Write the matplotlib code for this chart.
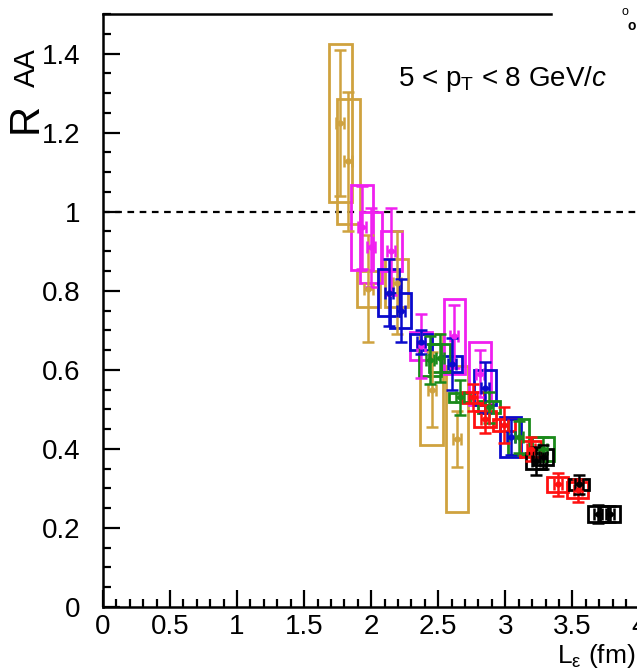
import matplotlib
matplotlib.use('Agg')
import matplotlib.pyplot as plt
from matplotlib.patches import Rectangle
from matplotlib.ticker import MultipleLocator

plt.rcParams['font.family'] = ['Liberation Sans', 'DejaVu Sans']
plt.rcParams['mathtext.fontset'] = 'custom'
plt.rcParams['mathtext.rm'] = 'Liberation Sans'
plt.rcParams['mathtext.it'] = 'Liberation Sans:italic'

# data: x, R_AA, stat err, syst err
gold_x = [1.77, 1.83, 1.98, 2.19, 2.45, 2.64]
gold_y = [1.225, 1.127, 0.805, 0.82, 0.55, 0.425]
gold_stat = [0.185, 0.175, 0.135, 0.13, 0.095, 0.07]
gold_sys = [0.20, 0.158, 0.045, 0.06, 0.14, 0.185]

mag_x = [1.93, 2.00, 2.15, 2.37, 2.62, 2.81]
mag_y = [0.96, 0.91, 0.90, 0.66, 0.685, 0.59]
mag_stat = [0.105, 0.10, 0.11, 0.08, 0.08, 0.06]
mag_sys = [0.107, 0.09, 0.05, 0.035, 0.095, 0.08]

blue_x = [2.13, 2.22, 2.37, 2.60, 2.85, 3.04]
blue_y = [0.795, 0.75, 0.67, 0.615, 0.555, 0.43]
blue_stat = [0.085, 0.08, 0.03, 0.065, 0.065, 0.045]
blue_sys = [0.06, 0.045, 0.02, 0.02, 0.045, 0.05]

green_x = [2.44, 2.51, 2.66, 2.88, 3.10, 3.28]
green_y = [0.625, 0.63, 0.53, 0.505, 0.43, 0.40]
green_stat = [0.06, 0.06, 0.045, 0.04, 0.04, 0.03]
green_sys = [0.04, 0.035, 0.012, 0.015, 0.045, 0.03]

red_x = [2.76, 2.85, 2.99, 3.19, 3.39, 3.54]
red_y = [0.53, 0.475, 0.46, 0.40, 0.31, 0.295]
red_stat = [0.035, 0.035, 0.045, 0.03, 0.03, 0.03]
red_sys = [0.015, 0.02, 0.015, 0.02, 0.02, 0.02]

black_x = [3.23, 3.28, 3.55, 3.69, 3.78]
black_y = [0.37, 0.38, 0.31, 0.235, 0.235]
black_stat = [0.035, 0.03, 0.025, 0.022, 0.02]
black_sys = [0.02, 0.02, 0.015, 0.02, 0.02]

series = [
    (gold_x, gold_y, gold_stat, gold_sys, '#CFA23F', 0.17),
    (mag_x, mag_y, mag_stat, mag_sys, '#F020F0', 0.16),
    (blue_x, blue_y, blue_stat, blue_sys, '#0A0ACC', 0.16),
    (green_x, green_y, green_stat, green_sys, '#1A8A1A', 0.16),
    (red_x, red_y, red_stat, red_sys, '#FF1010', 0.16),
    (black_x, black_y, black_stat, black_sys, '#000000', 0.15),
]

fig = plt.figure(figsize=(6.37, 6.72), dpi=100)
ax = fig.add_axes([103 / 637, 65 / 672, 590 / 637, 593 / 672])
ax.set_xlim(0, 4.4)
ax.set_ylim(0, 1.5)

for xs, ys, st, sy, col, w in series:
    for x, y, s in zip(xs, ys, sy):
        ax.add_patch(Rectangle((x - w / 2, y - s), w, 2 * s, fill=False,
                               edgecolor=col, lw=2.0, zorder=2))
    ax.errorbar(xs, ys, yerr=st, xerr=0.03, fmt='o', ms=3.5, color=col,
                ecolor=col, elinewidth=1.8, capsize=4, capthick=1.8, zorder=3)

# reference line at 1
ax.axhline(1.0, color='black', lw=1.6, ls=(0, (3, 2.5)), zorder=1)

ax.spines['right'].set_visible(False)
ax.spines['top'].set_bounds(0, 3.34)
for s in ['left', 'bottom', 'top']:
    ax.spines[s].set_linewidth(1.8)

ax.xaxis.set_minor_locator(MultipleLocator(0.1))
ax.yaxis.set_minor_locator(MultipleLocator(0.05))
ax.set_xticks([0, 0.5, 1, 1.5, 2, 2.5, 3, 3.5, 4])
ax.set_xticklabels(['0', '0.5', '1', '1.5', '2', '2.5', '3', '3.5', '4'])
ax.set_yticks([0, 0.2, 0.4, 0.6, 0.8, 1.0, 1.2, 1.4])
ax.set_yticklabels(['0', '0.2', '0.4', '0.6', '0.8', '1', '1.2', '1.4'])
ax.tick_params(which='both', direction='in', width=1.6, labelsize=20,
               top=False, right=False)
ax.tick_params(which='major', length=12)
ax.tick_params(which='minor', length=6)
ax.tick_params(axis='y', pad=16)
ax.tick_params(axis='x', pad=5)

ax.text(2.2, 1.335, r'5 < p$_{\mathrm{T}}$ < 8 GeV/$c$', fontsize=20,
        ha='left', va='center')

# y title: R with AA subscript
fig.text(26 / 637, 1 - 118 / 672, 'R', fontsize=30, rotation=90,
         ha='center', va='center')
fig.text(27 / 637, 1 - 68 / 672, 'AA', fontsize=21, rotation=90,
         ha='center', va='center')
fig.text(0.997, 0.024, r'L$_{\mathrm{ε}}$ (fm)', fontsize=19,
         ha='right', va='center')

# clipped legend remnants at the top right
fig.text(0.975, 0.982, 'o', fontsize=9, ha='left', va='center')
fig.text(0.985, 0.962, 'o', fontsize=10, fontweight='bold', ha='left', va='center')

fig.savefig('out.png', dpi=100)
